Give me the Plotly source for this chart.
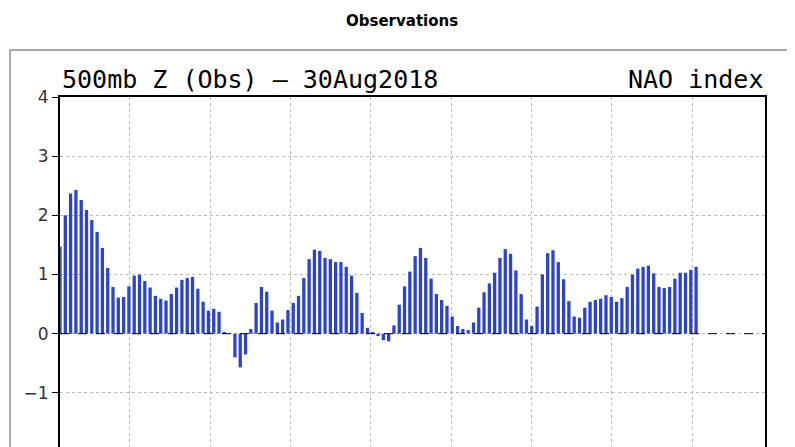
import plotly.graph_objects as go

# daily NAO index values
nao_part1 = [1.47, 2.0, 2.37, 2.43, 2.26, 2.09, 1.92, 1.72, 1.45, 1.11,
             0.79, 0.61, 0.62, 0.80, 0.98, 1.0, 0.89, 0.78, 0.64, 0.59,
             0.56, 0.67, 0.78, 0.91, 0.94, 0.96, 0.76, 0.54, 0.39, 0.42,
             0.37, 0.02, 0.0, -0.40, -0.57, -0.35, 0.08, 0.52, 0.79, 0.71,
             0.39, 0.19, 0.24, 0.40, 0.52, 0.64, 0.94, 1.26, 1.42, 1.40,
             1.28, 1.26, 1.21, 1.21, 1.13, 0.98, 0.69, 0.35, 0.10, 0.03]
nao_part2 = [-0.04, -0.11, -0.13, 0.14, 0.49, 0.80, 1.05, 1.31, 1.45, 1.28,
             0.93, 0.67, 0.57, 0.47, 0.29, 0.13, 0.08, 0.06, 0.19, 0.44,
             0.70, 0.85, 1.03, 1.28, 1.43, 1.35, 1.07, 0.67, 0.24, 0.13,
             0.46, 1.0, 1.36, 1.41, 1.21, 0.92, 0.55, 0.29, 0.27, 0.44,
             0.54, 0.57, 0.59, 0.65, 0.62, 0.54, 0.60, 0.79, 1.0, 1.10,
             1.13, 1.15, 1.02, 0.79, 0.77, 0.79, 0.93, 1.03, 1.03, 1.08, 1.13]
nao = nao_part1 + nao_part2
days = list(range(1, len(nao) + 1))
y_ticks = [-2, -1, 0, 1, 2, 3, 4]
y_labels = ['−2', '−1', '0', '1', '2', '3', '4']

W, L, R = 795, 52, 38
pw = W - L - R


def px_x(p):
    return (p - L) / pw


fig = go.Figure()
fig.add_trace(go.Bar(x=days, y=nao, marker_color='#2b44c8', marker_line_width=0,
                     width=0.62))

fig.update_layout(
    width=795, height=447,
    margin=dict(l=L, r=R, t=89, b=0, autoexpand=False),
    paper_bgcolor='white', plot_bgcolor='white',
    showlegend=False,
    font=dict(family='DejaVu Sans', color='black'),
    xaxis=dict(range=[1, 134], showticklabels=False, ticks='', automargin=False,
               tick0=14.2, dtick=15.15, showgrid=True,
               gridcolor='#bbbbbb', griddash='dot', gridwidth=1,
               showline=True, linecolor='black', linewidth=2, mirror=True,
               zeroline=False),
    yaxis=dict(range=[-2.05, 4], tickvals=y_ticks, ticktext=y_labels,
               automargin=False,
               ticks='outside', ticklen=6, tickcolor='black',
               tickfont=dict(size=17, color='#333333'),
               showgrid=True, gridcolor='#bbbbbb', griddash='dot',
               showline=True, linecolor='black', linewidth=2, mirror=True,
               zeroline=False),
    shapes=[
        dict(type='line', xref='paper', yref='y', x0=0, x1=1, y0=0, y1=0,
             line=dict(color='black', width=1, dash='dash')),
        dict(type='rect', xref='paper', yref='paper', x0=px_x(2), x1=px_x(790),
             y0=-0.05, y1=1 + 47 / 358, line=dict(color='#555555', width=1),
             fillcolor='rgba(0,0,0,0)'),
    ],
    annotations=[
        dict(text='<b>Observations</b>', xref='paper', yref='paper',
             x=px_x(394), y=1 + 76 / 358, xanchor='center', yanchor='middle',
             showarrow=False, font=dict(size=15, family='DejaVu Sans')),
        dict(text='500mb Z (Obs) — 30Aug2018', xref='paper', yref='paper',
             x=0, y=1.003, xanchor='left', yanchor='bottom', showarrow=False,
             font=dict(size=25, family='DejaVu Sans Mono')),
        dict(text='NAO index', xref='paper', yref='paper',
             x=1, y=1.003, xanchor='right', yanchor='bottom', showarrow=False,
             font=dict(size=25, family='DejaVu Sans Mono')),
    ],
)

fig.write_html("out.html")
